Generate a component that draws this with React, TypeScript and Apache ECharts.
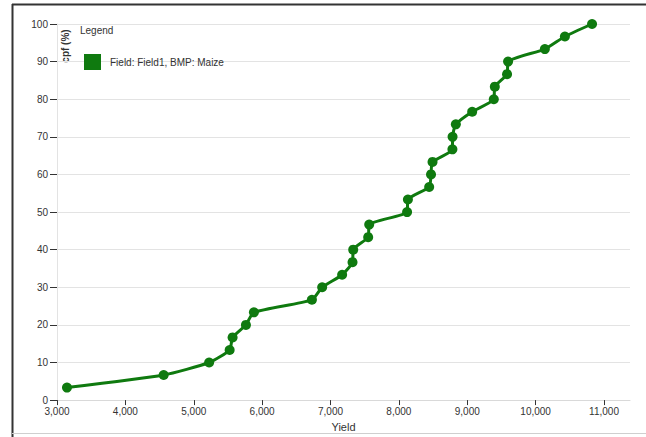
import React, { useEffect, useRef } from "react";
import * as echarts from "echarts";

const seriesName = "Field: Field1, BMP: Maize";
const yieldValues = [
  3146, 4560, 5225, 5525, 5568, 5763, 5880, 6728, 6878, 7170,
  7322, 7332, 7551, 7566, 8120, 8132, 8443, 8470, 8492, 8783,
  8785, 8833, 9072, 9388, 9403, 9582, 9597, 10135, 10428, 10825,
];
const cpfValues = [
  3.33, 6.67, 10, 13.33, 16.67, 20, 23.33, 26.67, 30, 33.33,
  36.67, 40, 43.33, 46.67, 50, 53.33, 56.67, 60, 63.33, 66.67,
  70, 73.33, 76.67, 80, 83.33, 86.67, 90, 93.33, 96.67, 100,
];
const xMin = 3000;
const xMax = 11380;
const xStep = 1000;
const yMin = 0;
const yMax = 100;
const yStep = 10;

const FONT = "Liberation Sans, Arial, sans-serif";
const GREEN = "#0f7a0f";

export default function App() {
  const ref = useRef<HTMLDivElement>(null);
  useEffect(() => {
    if (!ref.current) return;
    const chart = echarts.init(ref.current, undefined, { renderer: "svg" });
    chart.setOption({
      animation: false,
      backgroundColor: "#ffffff",
      textStyle: { fontFamily: FONT },
      grid: { left: 57, right: 16, top: 24, bottom: 35, containLabel: false },
      legend: {
        left: 79,
        top: 49,
        icon: "rect",
        itemWidth: 17,
        itemHeight: 16,
        data: [seriesName],
        textStyle: { fontSize: 10, color: "#333", fontFamily: FONT, padding: [0, 0, 0, 4] },
      },
      xAxis: {
        type: "value",
        min: xMin,
        max: xMax,
        interval: xStep,
        name: "Yield",
        nameLocation: "middle",
        nameGap: 17,
        nameTextStyle: { fontSize: 11, color: "#333", fontFamily: FONT },
        axisLine: { show: true, lineStyle: { color: "#d9d9d9", width: 1 } },
        axisTick: { show: true, length: 5, lineStyle: { color: "#333" } },
        axisLabel: {
          fontSize: 10,
          color: "#333",
          margin: 6,
          showMaxLabel: false,
          formatter: (v: number) => v.toLocaleString("en-US"),
        },
        splitLine: { show: false },
      },
      yAxis: {
        type: "value",
        min: yMin,
        max: yMax,
        interval: yStep,
        axisLine: { show: true, lineStyle: { color: "#e3e3e3", width: 1 } },
        axisTick: { show: true, length: 7, lineStyle: { color: "#333" } },
        axisLabel: {
          fontSize: 10,
          color: "#333",
          margin: 9,
          verticalAlign: "middle",
        },
        splitLine: { show: true, lineStyle: { color: "#e3e3e3", width: 1 } },
      },
      graphic: [
        {
          type: "line",
          shape: { x1: 12.5, y1: 4, x2: 12.5, y2: 437 },
          style: { stroke: "#333", lineWidth: 2 },
        },
        {
          type: "line",
          shape: { x1: 12, y1: 4.5, x2: 646, y2: 4.5 },
          style: { stroke: "#333", lineWidth: 2 },
        },
        {
          type: "line",
          shape: { x1: 12, y1: 433.5, x2: 646, y2: 433.5 },
          style: { stroke: "#cfcfcf", lineWidth: 1 },
        },
        {
          type: "text",
          x: 80,
          y: 25,
          style: { text: "Legend", fontSize: 10, fill: "#333", fontFamily: FONT },
        },
        {
          type: "text",
          x: 65,
          y: 46,
          rotation: Math.PI / 2,
          style: {
            text: "cpf (%)",
            fontSize: 10,
            fontWeight: "bold",
            fill: "#333",
            fontFamily: FONT,
            align: "center",
            verticalAlign: "middle",
          },
        },
      ],
      series: [
        {
          name: seriesName,
          type: "line",
          data: yieldValues.map((x, i) => [x, cpfValues[i]]),
          smooth: 0.2,
          symbol: "circle",
          symbolSize: 10,
          lineStyle: { color: GREEN, width: 3 },
          itemStyle: { color: GREEN },
        },
      ],
    });
    return () => chart.dispose();
  }, []);
  return (
    <div
      ref={ref}
      style={{ position: "fixed", left: 0, top: 0, width: 646, height: 437 }}
    />
  );
}
